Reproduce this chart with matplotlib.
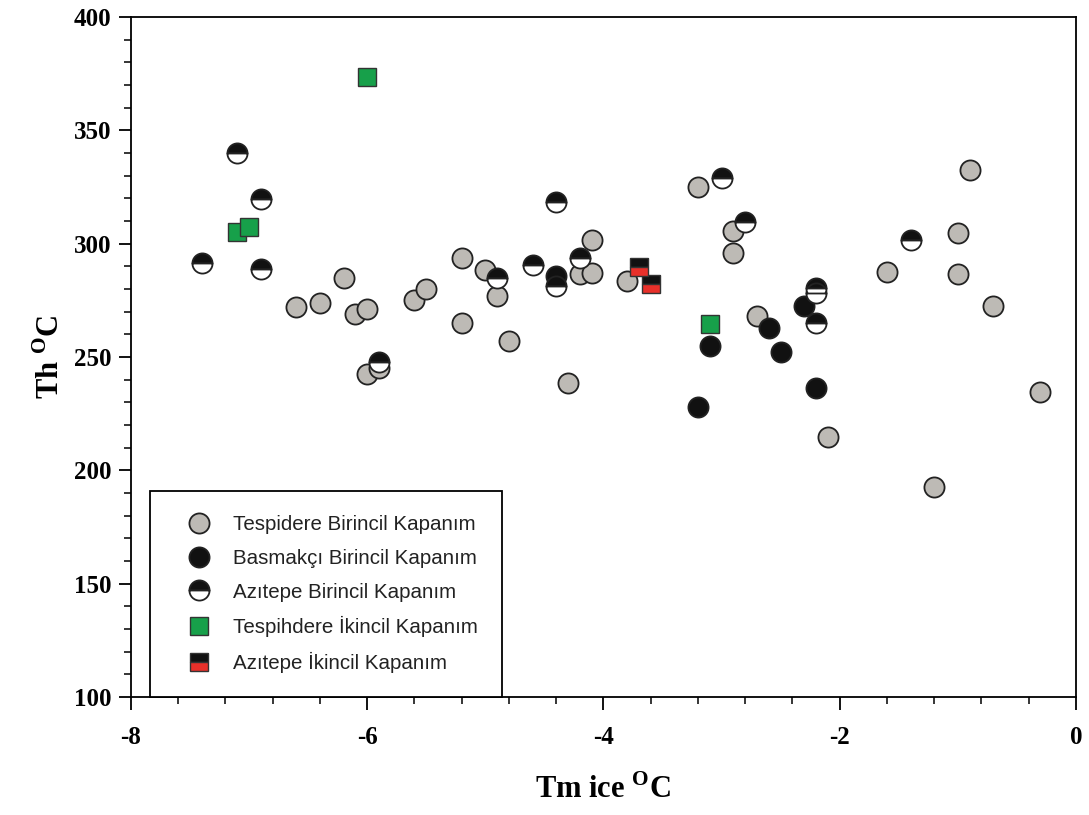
import matplotlib.pyplot as plt
from matplotlib.lines import Line2D
from matplotlib.ticker import MultipleLocator

plt.rcParams['mathtext.fontset'] = 'custom'
plt.rcParams['mathtext.rm'] = 'Liberation Serif:bold'
plt.rcParams['mathtext.bf'] = 'Liberation Serif:bold'
plt.rcParams['axes.unicode_minus'] = False

# Tespidere birincil (gray circles)
tes_x = [-6.6, -6.4, -6.2, -6.1, -6.0, -6.0, -5.9, -5.6, -5.5, -5.2, -5.0, -4.9, -5.2, -4.8,
         -4.3, -4.2, -4.1, -4.1, -3.8, -3.2, -2.9, -2.9, -2.7, -2.1, -1.6, -1.2, -1.0, -1.0,
         -0.9, -0.7, -0.3]
tes_y = [272, 274, 285, 269, 271, 242.5, 245, 275, 280, 293.5, 288.5, 277, 265, 257,
         238.5, 286.5, 287, 301.5, 283.5, 325, 305.5, 296, 268, 214.5, 287.5, 192.5, 304.5, 286.5,
         332.5, 272.5, 234.5]

# Basmakci birincil (black circles)
bas_x = [-4.4, -3.2, -3.1, -2.6, -2.5, -2.3, -2.2]
bas_y = [285.5, 228, 255, 263, 252, 272.5, 236.5]

# Azitepe birincil (half circles)
azi_x = [-7.1, -6.9, -7.4, -6.9, -5.9, -4.4, -4.9, -4.6, -4.4, -4.2, -3.0, -2.8, -2.2, -2.2,
         -2.2, -1.4]
azi_y = [340, 319.5, 291.5, 289, 248, 318.5, 285, 290.5, 281.5, 293.5, 329, 309.5, 280.5, 278,
         265, 301.5]

# Tespihdere ikincil (green squares)
tsec_x = [-6.0, -7.1, -7.0, -3.1]
tsec_y = [373.5, 305, 307.5, 264.5]

# Azitepe ikincil (black/red squares)
asec_x = [-3.7, -3.6]
asec_y = [289.5, 282]

labels = ['Tespidere Birincil Kapanım', 'Basmakçı Birincil Kapanım', 'Azıtepe Birincil Kapanım',
          'Tespihdere İkincil Kapanım', 'Azıtepe İkincil Kapanım']

edge = '#222222'
styles = [
    dict(marker='o', markersize=14.5, markerfacecolor='#bdbab5', markeredgecolor=edge, markeredgewidth=1.3),
    dict(marker='o', markersize=14.5, markerfacecolor='#111111', markeredgecolor=edge, markeredgewidth=1.3),
    dict(marker='o', markersize=14.5, markerfacecolor='#111111', markerfacecoloralt='white',
         fillstyle='top', markeredgecolor=edge, markeredgewidth=1.3),
    dict(marker='s', markersize=13.5, markerfacecolor='#17a04a', markeredgecolor='#333333', markeredgewidth=1.0),
    dict(marker='s', markersize=13.5, markerfacecolor='#111111', markerfacecoloralt='#e8302a',
         fillstyle='top', markeredgecolor='#333333', markeredgewidth=1.0),
]

fig = plt.figure(figsize=(10.89, 8.15), dpi=100)
ax = fig.add_axes([0.1203, 0.1448, 0.8677, 0.8344])

series = [(tes_x, tes_y), (bas_x, bas_y), (azi_x, azi_y), (tsec_x, tsec_y), (asec_x, asec_y)]
for (xs, ys), st in zip(series, styles):
    ax.plot(xs, ys, linestyle='none', **st)

ax.set_xlim(-8, 0)
ax.set_ylim(100, 400)
ax.xaxis.set_major_locator(MultipleLocator(2))
ax.xaxis.set_minor_locator(MultipleLocator(0.4))
ax.yaxis.set_major_locator(MultipleLocator(50))
ax.yaxis.set_minor_locator(MultipleLocator(10))
ax.tick_params(which='major', direction='out', length=9, width=1.3, pad=12,
               labelsize=18, top=False, right=False)
ax.tick_params(which='minor', direction='out', length=5, width=1.1, top=False, right=False)
ax.tick_params(axis='y', which='major', pad=5)
for lab in ax.get_xticklabels() + ax.get_yticklabels():
    lab.set_fontfamily('Liberation Serif')
    lab.set_fontweight('bold')
for sp in ax.spines.values():
    sp.set_linewidth(1.3)

ax.set_xlabel(r'Tm ice $^{\mathrm{O}}$C', fontsize=22, fontfamily='Liberation Serif',
              fontweight='bold', labelpad=18)
ax.set_ylabel(r'Th $^{\mathrm{O}}$C', fontsize=22, fontfamily='Liberation Serif',
              fontweight='bold', labelpad=6)

handles = [Line2D([], [], linestyle='none', **st) for st in styles]
leg = ax.legend(handles, labels, loc='lower left', bbox_to_anchor=(0.02, 0.0),
                frameon=True, fancybox=False, edgecolor='black', framealpha=1,
                prop={'family': 'Liberation Sans', 'size': 14.8}, labelspacing=0.72,
                borderpad=1.15, handletextpad=0.4, handlelength=2.5, borderaxespad=0)
leg.get_frame().set_linewidth(1.3)
for t in leg.get_texts():
    t.set_color('#222222')

fig.savefig('out.png', dpi=100)
